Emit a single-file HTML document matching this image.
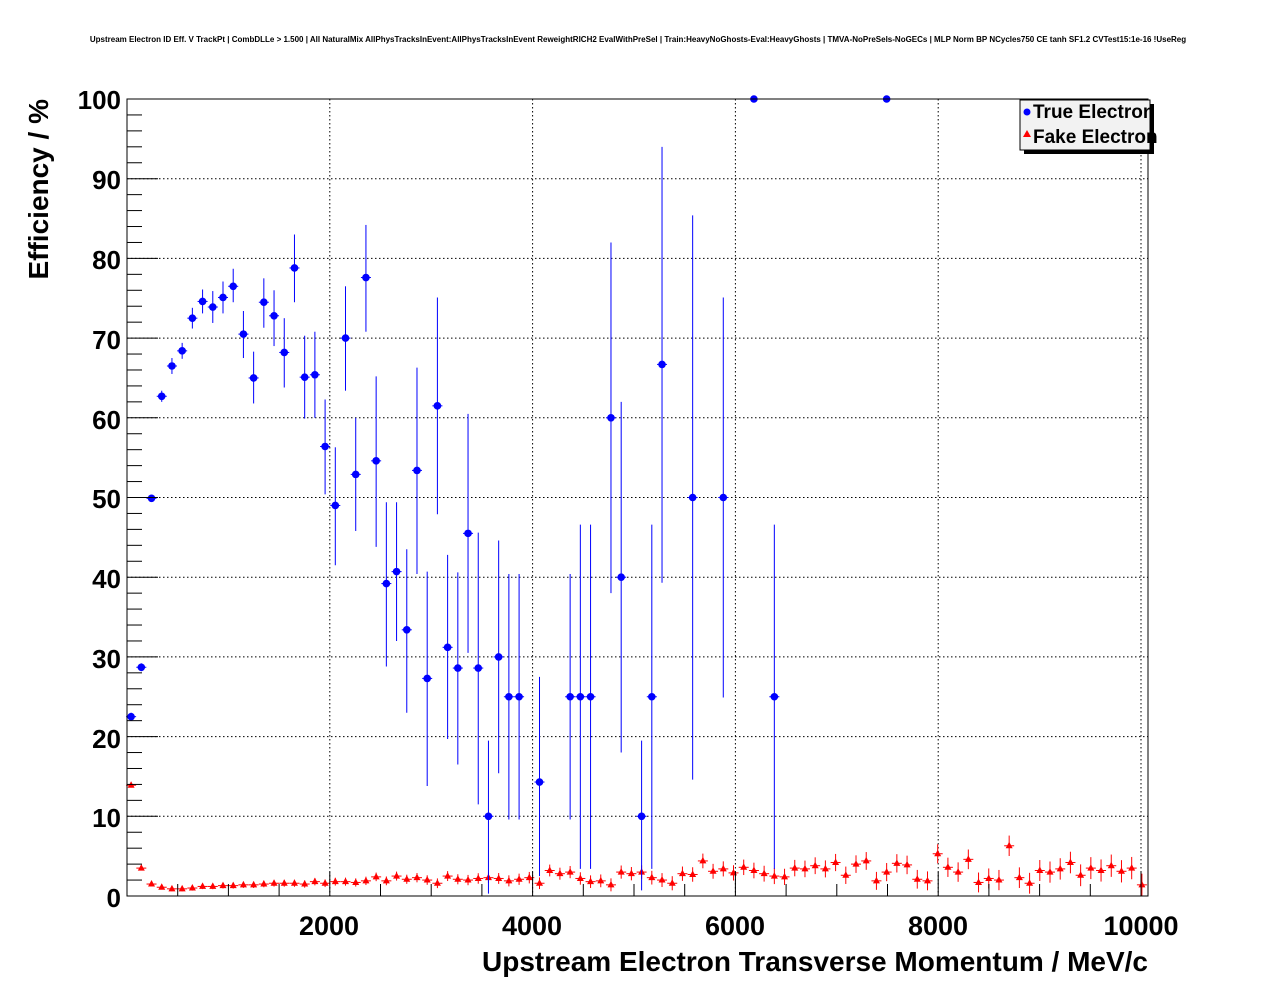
<!DOCTYPE html>
<html><head><meta charset="utf-8"><style>
html,body{margin:0;padding:0;background:#fff;}
svg{display:block;font-family:"Liberation Sans",Arial,sans-serif;}
</style></head><body>
<svg id="s" width="1276" height="996" xmlns="http://www.w3.org/2000/svg">
<rect width="1276" height="996" fill="#fff"/>
<text x="638" y="42" font-size="8" font-weight="bold" text-anchor="middle">Upstream Electron ID Eff. V TrackPt | CombDLLe &gt; 1.500 | All NaturalMix AllPhysTracksInEvent:AllPhysTracksInEvent ReweightRICH2 EvalWithPreSel | Train:HeavyNoGhosts-Eval:HeavyGhosts | TMVA-NoPreSels-NoGECs | MLP Norm BP NCycles750 CE tanh SF1.2 CVTest15:1e-16 !UseReg</text>
<g id="grid"></g>
<g id="data"></g>
<rect x="127" y="99" width="1021" height="797" fill="none" stroke="#000" stroke-width="1"/>
<g id="ticks"></g>
<g font-size="26" font-weight="bold" text-anchor="end">
<text x="121" y="109">100</text><text x="121" y="189">90</text><text x="121" y="269">80</text><text x="121" y="349">70</text><text x="121" y="429">60</text><text x="121" y="508">50</text><text x="121" y="588">40</text><text x="121" y="668">30</text><text x="121" y="748">20</text><text x="121" y="827">10</text><text x="121" y="907">0</text>
</g>
<g font-size="27" font-weight="bold" text-anchor="middle">
<text x="329" y="935">2000</text><text x="532" y="935">4000</text><text x="735" y="935">6000</text><text x="938" y="935">8000</text><text x="1141" y="935">10000</text>
</g>
<text x="1148" y="971" font-size="28" font-weight="bold" text-anchor="end">Upstream Electron Transverse Momentum / MeV/c</text>
<text transform="translate(48,99) rotate(-90)" font-size="28" font-weight="bold" text-anchor="end">Efficiency / %</text>
<rect x="1024" y="104" width="130" height="50" fill="#000"/>
<rect x="1020" y="100" width="130" height="50" fill="#f2f2f2" stroke="#000" stroke-width="1"/>
<circle cx="1027" cy="112" r="3.5" fill="#0000ff"/>
<polygon points="1027,130 1031,137 1023,137" fill="#ff0000"/>
<text x="1033" y="118" font-size="19" font-weight="bold">True Electron</text>
<text x="1033" y="143" font-size="19" font-weight="bold">Fake Electron</text>
</svg>
<script>
const NS="http://www.w3.org/2000/svg";
const X=v=>126+v*0.1021, TX=v=>127+v*0.1014, Y=v=>896-v*7.97;
function el(p,t,a){const e=document.createElementNS(NS,t);for(const k in a)e.setAttribute(k,a[k]);document.getElementById(p).appendChild(e);return e;}
for(const v of [2000,4000,6000,8000,10000])el("grid","line",{x1:TX(v),x2:TX(v),y1:99,y2:896,stroke:"#000","stroke-dasharray":"1.5,2.5","stroke-width":1});
for(let v=10;v<=100;v+=10)el("grid","line",{x1:127,x2:1148,y1:Y(v),y2:Y(v),stroke:"#000","stroke-dasharray":"1.5,2.5","stroke-width":1});
for(let v=0;v<=10000;v+=500){const L=v%2000==0?24:12;el("ticks","line",{x1:TX(v),x2:TX(v),y1:896,y2:896-L,stroke:"#000"});}
for(let v=0;v<=100;v+=2){const L=v%10==0?31:15;el("ticks","line",{x1:127,x2:127+L,y1:Y(v),y2:Y(v),stroke:"#000"});}
const B=[[50,22.5,22,23],[150,28.7,28.2,29.2],[250,49.9,49.6,50.2],[350,62.7,62,63.4],[450,66.5,65.5,67.5],[550,68.4,67.4,69.4],[650,72.5,71.2,73.8],[750,74.6,73.1,76.1],[850,73.9,71.9,75.9],[950,75.1,73.1,77.1],[1050,76.5,74.5,78.7],[1150,70.5,67.5,73.4],[1250,65,61.8,68.3],[1350,74.5,71.3,77.5],[1450,72.8,69,76],[1550,68.2,63.8,72.5],[1650,78.8,74.5,83],[1750,65.1,59.9,70.3],[1850,65.4,60,70.8],[1950,56.4,50.4,62.3],[2050,49,41.5,56.3],[2150,70,63.4,76.5],[2250,52.9,45.8,60],[2350,77.6,70.8,84.2],[2450,54.6,43.8,65.2],[2550,39.2,28.8,49.4],[2650,40.7,32,49.4],[2750,33.4,23,43.5],[2850,53.4,40.4,66.3],[2950,27.3,13.8,40.7],[3050,61.5,47.9,75.1],[3150,31.2,19.7,42.8],[3250,28.6,16.5,40.6],[3350,45.5,30.5,60.5],[3450,28.6,11.5,45.6],[3550,10,0.3,19.5],[3650,30,15.4,44.6],[3750,25,9.6,40.4],[3850,25,9.6,40.4],[4050,14.3,2.5,27.5],[4350,25,9.6,40.4],[4450,25,3.4,46.6],[4550,25,3.4,46.6],[4750,60,38,82],[4850,40,18,62],[5050,10,0.7,19.5],[5150,25,3.4,46.6],[5250,66.7,39.3,94],[5550,50,14.6,85.4],[5850,50,24.9,75.1],[6150,100,100,100],[6350,25,3.4,46.6],[7450,100,100,100]];
const R=[13.9,3.5,1.5,1.1,0.9,0.9,1.0,1.2,1.2,1.3,1.3,1.4,1.4,1.5,1.6,1.6,1.6,1.5,1.8,1.6,1.8,1.8,1.7,1.9,2.4,1.9,2.5,2.1,2.3,2.0,1.6,2.5,2.1,2.0,2.2,2.3,2.2,1.9,2.1,2.3,1.6,3.2,2.8,3.0,2.2,1.8,1.9,1.4,3.0,2.8,3.0,2.3,2.0,1.6,2.8,2.7,4.4,3.1,3.4,2.9,3.6,3.2,2.8,2.5,2.4,3.5,3.4,3.8,3.4,4.2,2.6,4.0,4.4,1.9,3.0,4.1,3.9,2.1,1.9,5.3,3.6,3.0,4.6,1.7,2.2,2.0,6.3,2.3,1.6,3.2,3.0,3.4,4.2,2.6,3.5,3.2,3.8,3.1,3.5,1.4];
R.forEach((v,i)=>{const x=X(50+100*i),y=Y(v);const e=i<3?0.3:Math.min(0.25+i*0.012,1.4);
el("data","line",{x1:x-5,x2:x+5,y1:y,y2:y,stroke:"#f00"});
el("data","line",{x1:x,x2:x,y1:Y(v-e),y2:Y(v+e),stroke:"#f00"});
el("data","polygon",{points:`${x},${y-4} ${x+3.5},${y+2.5} ${x-3.5},${y+2.5}`,fill:"#f00"});});
B.forEach(d=>{const x=X(d[0]),y=Y(d[1]);const c="#0000ff";
el("data","line",{x1:x-5,x2:x+5,y1:y,y2:y,stroke:c});
if(d[3]>d[2])el("data","line",{x1:x,x2:x,y1:Y(d[2]),y2:Y(d[3]),stroke:c});
el("data","circle",{cx:x,cy:y,r:3.8,fill:"#0000ff"});});
</script>
</body></html>
